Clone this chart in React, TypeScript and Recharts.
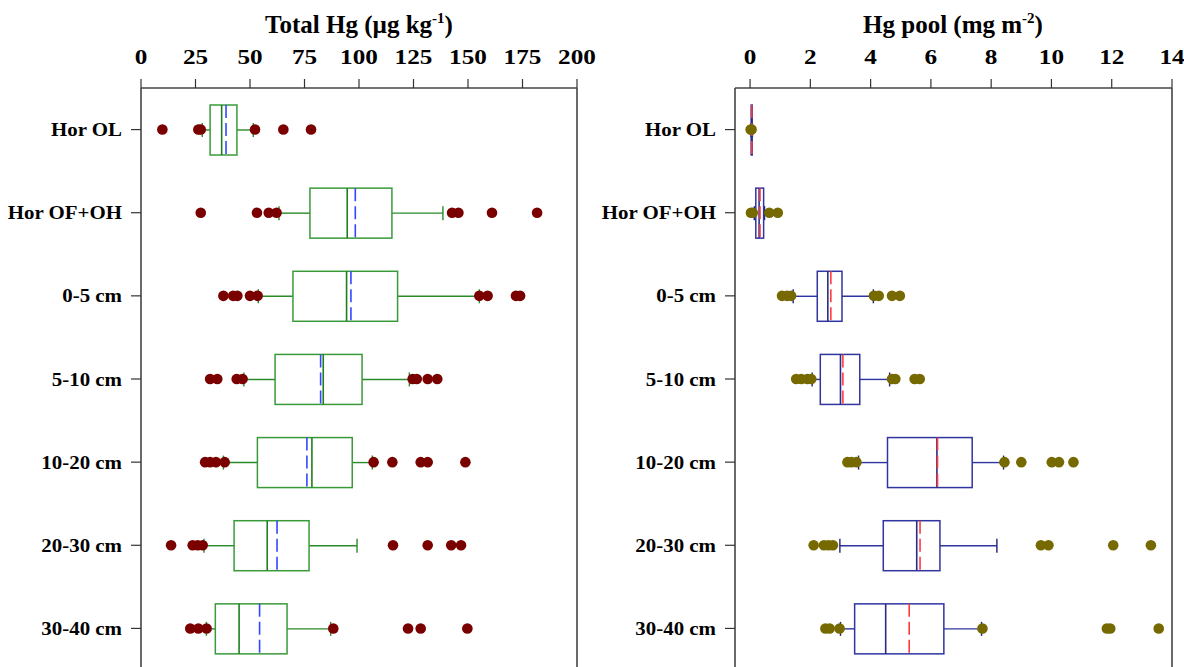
import React from 'react';
import { ComposedChart, Bar, Scatter, XAxis, YAxis, ReferenceLine } from 'recharts';

const categories = ['Hor OL', 'Hor OF+OH', '0-5 cm', '5-10 cm', '10-20 cm', '20-30 cm', '30-40 cm'];

// Total Hg (µg kg-1)
const hgTicks = [0, 25, 50, 75, 100, 125, 150, 175, 200];
const hgWhiskerLow = [28.1, 63.3, 53.8, 47.2, 37.8, 28.9, 30.0];
const hgQ1 = [31.7, 77.5, 69.7, 61.5, 53.4, 42.7, 34.1];
const hgMedian = [37.0, 94.6, 94.3, 83.6, 78.4, 57.9, 45.0];
const hgMean = [39.0, 98.3, 96.3, 82.4, 76.1, 62.4, 54.4];
const hgQ3 = [44.0, 115.1, 117.7, 101.4, 96.9, 77.1, 67.0];
const hgWhiskerHigh = [51.5, 138.5, 155.2, 123.1, 106.1, 99.1, 87.0];
const hgOutliers = [
  [9.8, 26.3, 27.4, 52.3, 65.3, 78.0],
  [27.4, 53.2, 58.6, 62.2, 142.7, 145.6, 161.0, 181.7],
  [37.8, 42.3, 44.2, 50.0, 53.5, 155.2, 159.0, 172.0, 173.9],
  [31.7, 35.0, 43.9, 46.6, 124.6, 126.5, 131.5, 135.9],
  [29.4, 31.7, 34.4, 38.4, 106.7, 115.3, 128.3, 131.5, 148.8],
  [13.8, 23.7, 26.0, 28.3, 115.6, 131.5, 142.3, 146.8],
  [22.6, 26.3, 30.1, 88.2, 122.5, 128.3, 149.7],
];

// Hg pool (mg m-2)
const poolTicks = [0, 2, 4, 6, 8, 10, 12, 14];
const poolWhiskerLow = [0.03, 0.14, 1.43, 2.06, 3.6, 2.98, 3.0];
const poolQ1 = [0.04, 0.19, 2.23, 2.33, 4.56, 4.42, 3.47];
const poolMedian = [0.05, 0.3, 2.58, 3.0, 6.2, 5.53, 4.5];
const poolMean = [0.06, 0.33, 2.68, 3.08, 6.22, 5.64, 5.28];
const poolQ3 = [0.07, 0.45, 3.05, 3.64, 7.37, 6.3, 6.43];
const poolWhiskerHigh = [0.08, 0.48, 4.09, 4.63, 8.41, 8.19, 7.68];
const poolOutliers = [
  [0.02, 0.05],
  [0.03, 0.09, 0.64, 0.92],
  [1.06, 1.23, 1.36, 4.11, 4.27, 4.71, 4.97],
  [1.53, 1.7, 1.9, 2.03, 4.71, 4.82, 5.46, 5.63],
  [3.23, 3.36, 3.53, 8.44, 9.0, 10.01, 10.25, 10.73],
  [2.11, 2.45, 2.6, 2.75, 9.65, 9.9, 12.05, 13.3],
  [2.5, 2.64, 2.97, 7.71, 11.84, 11.95, 13.56],
];

const SLOTS = [0, 1, 2, 3, 4, 5, 6, 7, 8];
const FONT = '"Liberation Serif", "Times New Roman", serif';

function buildRows(wl: number[], q1: number[], med: number[], mean: number[], q3: number[], wh: number[], out: number[][]) {
  return categories.map((cat, i) => {
    const row: any = { cat, range: [wl[i], wh[i]], wl: wl[i], q1: q1[i], med: med[i], mean: mean[i], q3: q3[i], wh: wh[i] };
    out[i].forEach((v, j) => {
      row['o' + j] = v;
    });
    return row;
  });
}

const hgRows = buildRows(hgWhiskerLow, hgQ1, hgMedian, hgMean, hgQ3, hgWhiskerHigh, hgOutliers);
const poolRows = buildRows(poolWhiskerLow, poolQ1, poolMedian, poolMean, poolQ3, poolWhiskerHigh, poolOutliers);

type BoxStyle = { box: string; median: string; whisker: string; cap: string; mean: string };

const makeBoxShape = (s: BoxStyle) => (props: any) => {
  const { x, y, width, height, payload } = props;
  if (payload == null || x == null) return <g />;
  const span = payload.wh - payload.wl;
  const px = (v: number) => (span === 0 ? x : x + ((v - payload.wl) / span) * width);
  const cy = y + height / 2;
  const xq1 = px(payload.q1);
  const xq3 = px(payload.q3);
  const xm = px(payload.med);
  const xmean = px(payload.mean);
  const xl = px(payload.wl);
  const xh = px(payload.wh);
  return (
    <g>
      <line x1={xl} x2={xq1} y1={cy} y2={cy} stroke={s.whisker} strokeWidth={1.4} />
      <line x1={xq3} x2={xh} y1={cy} y2={cy} stroke={s.whisker} strokeWidth={1.4} />
      <line x1={xl} x2={xl} y1={cy - 7} y2={cy + 7} stroke={s.cap} strokeWidth={1.4} />
      <line x1={xh} x2={xh} y1={cy - 7} y2={cy + 7} stroke={s.cap} strokeWidth={1.4} />
      <rect x={xq1} y={y} width={Math.max(xq3 - xq1, 0.5)} height={height} fill="none" stroke={s.box} strokeWidth={1.5} />
      <line x1={xm} x2={xm} y1={y} y2={y + height} stroke={s.median} strokeWidth={1.6} />
      <line x1={xmean} x2={xmean} y1={y} y2={y + height} stroke={s.mean} strokeWidth={1.6} strokeDasharray="13 5" />
    </g>
  );
};

const makeDot = (color: string) => (props: any) => {
  const { cx, cy } = props;
  if (cx == null || cy == null || Number.isNaN(cx) || Number.isNaN(cy)) return <g />;
  return <circle cx={cx} cy={cy} r={5.3} fill={color} />;
};

const XTick = (props: any) => {
  const { x, y, payload } = props;
  return (
    <g transform={`translate(${x},${y})`}>
      <text transform="scale(1.2,1)" textAnchor="middle" fontFamily={FONT} fontWeight="bold" fontSize={21} fill="#000">
        {payload.value}
      </text>
    </g>
  );
};

const YTick = (props: any) => {
  const { x, y, payload } = props;
  return (
    <g transform={`translate(${x},${y})`}>
      <text transform="scale(1.1,1)" textAnchor="end" dy={6.5} fontFamily={FONT} fontWeight="bold" fontSize={19} fill="#000">
        {payload.value}
      </text>
    </g>
  );
};

type PanelProps = {
  rows: any[];
  ticks: number[];
  domain: [number, number];
  yWidth: number;
  plotWidth: number;
  rightMargin: number;
  style: BoxStyle;
  dotColor: string;
};

function Panel({ rows, ticks, domain, yWidth, plotWidth, rightMargin, style, dotColor }: PanelProps) {
  const shape = makeBoxShape(style);
  const dot = makeDot(dotColor);
  return (
    <ComposedChart
      layout="vertical"
      width={yWidth + plotWidth + rightMargin}
      height={680}
      data={rows}
      margin={{ top: 0, right: rightMargin, left: 0, bottom: 10 }}
      style={{ overflow: 'visible' }}
    >
      <XAxis
        type="number"
        orientation="top"
        domain={domain}
        ticks={ticks}
        allowDataOverflow
        height={88}
        tickSize={9}
        tickMargin={15}
        tick={<XTick />}
        axisLine={{ stroke: '#444', strokeWidth: 1.6 }}
        tickLine={{ stroke: '#333', strokeWidth: 1.2 }}
      />
      <YAxis
        type="category"
        dataKey="cat"
        width={yWidth}
        interval={0}
        tickSize={10}
        tickMargin={9}
        tick={<YTick />}
        axisLine={{ stroke: '#444', strokeWidth: 1.6 }}
        tickLine={{ stroke: '#333', strokeWidth: 1.2 }}
        allowDuplicatedCategory={false}
      />
      <ReferenceLine x={domain[1]} stroke="#444" strokeWidth={1.6} />
      <Bar dataKey="range" barSize={50} isAnimationActive={false} shape={shape} />
      {SLOTS.map((j) => (
        <Scatter key={j} dataKey={'o' + j} isAnimationActive={false} shape={dot} />
      ))}
    </ComposedChart>
  );
}

export default function App() {
  return (
    <div style={{ position: 'fixed', left: 0, top: 0, width: 1184, height: 667, overflow: 'hidden', background: '#fff' }}>
      <svg width={1184} height={50} style={{ position: 'absolute', left: 0, top: 0 }}>
        <text x={359} y={33} textAnchor="middle" fontFamily={FONT} fontWeight="bold" fontSize={25} fill="#000">
          Total Hg (µg kg
          <tspan fontSize={15} dy={-10}>-1</tspan>
          <tspan dy={10}>)</tspan>
        </text>
        <text x={953} y={33} textAnchor="middle" fontFamily={FONT} fontWeight="bold" fontSize={25} fill="#000">
          Hg pool (mg m
          <tspan fontSize={15} dy={-10}>-2</tspan>
          <tspan dy={10}>)</tspan>
        </text>
      </svg>
      <div style={{ position: 'absolute', left: 0, top: 0 }}>
        <Panel
          rows={hgRows}
          ticks={hgTicks}
          domain={[0, 200]}
          yWidth={141}
          plotWidth={436}
          rightMargin={22}
          style={{ box: '#3a9a3a', median: '#1f7f1f', whisker: '#2a8a2a', cap: '#2a8a2a', mean: '#3347ff' }}
          dotColor="#7a0000"
        />
      </div>
      <div style={{ position: 'absolute', left: 600, top: 0 }}>
        <Panel
          rows={poolRows}
          ticks={poolTicks}
          domain={[-0.5, 14]}
          yWidth={135}
          plotWidth={437}
          rightMargin={12}
          style={{ box: '#3035a0', median: '#2a2a8a', whisker: '#2e34a0', cap: '#1f2470', mean: '#ff3b3b' }}
          dotColor="#766900"
        />
      </div>
    </div>
  );
}
